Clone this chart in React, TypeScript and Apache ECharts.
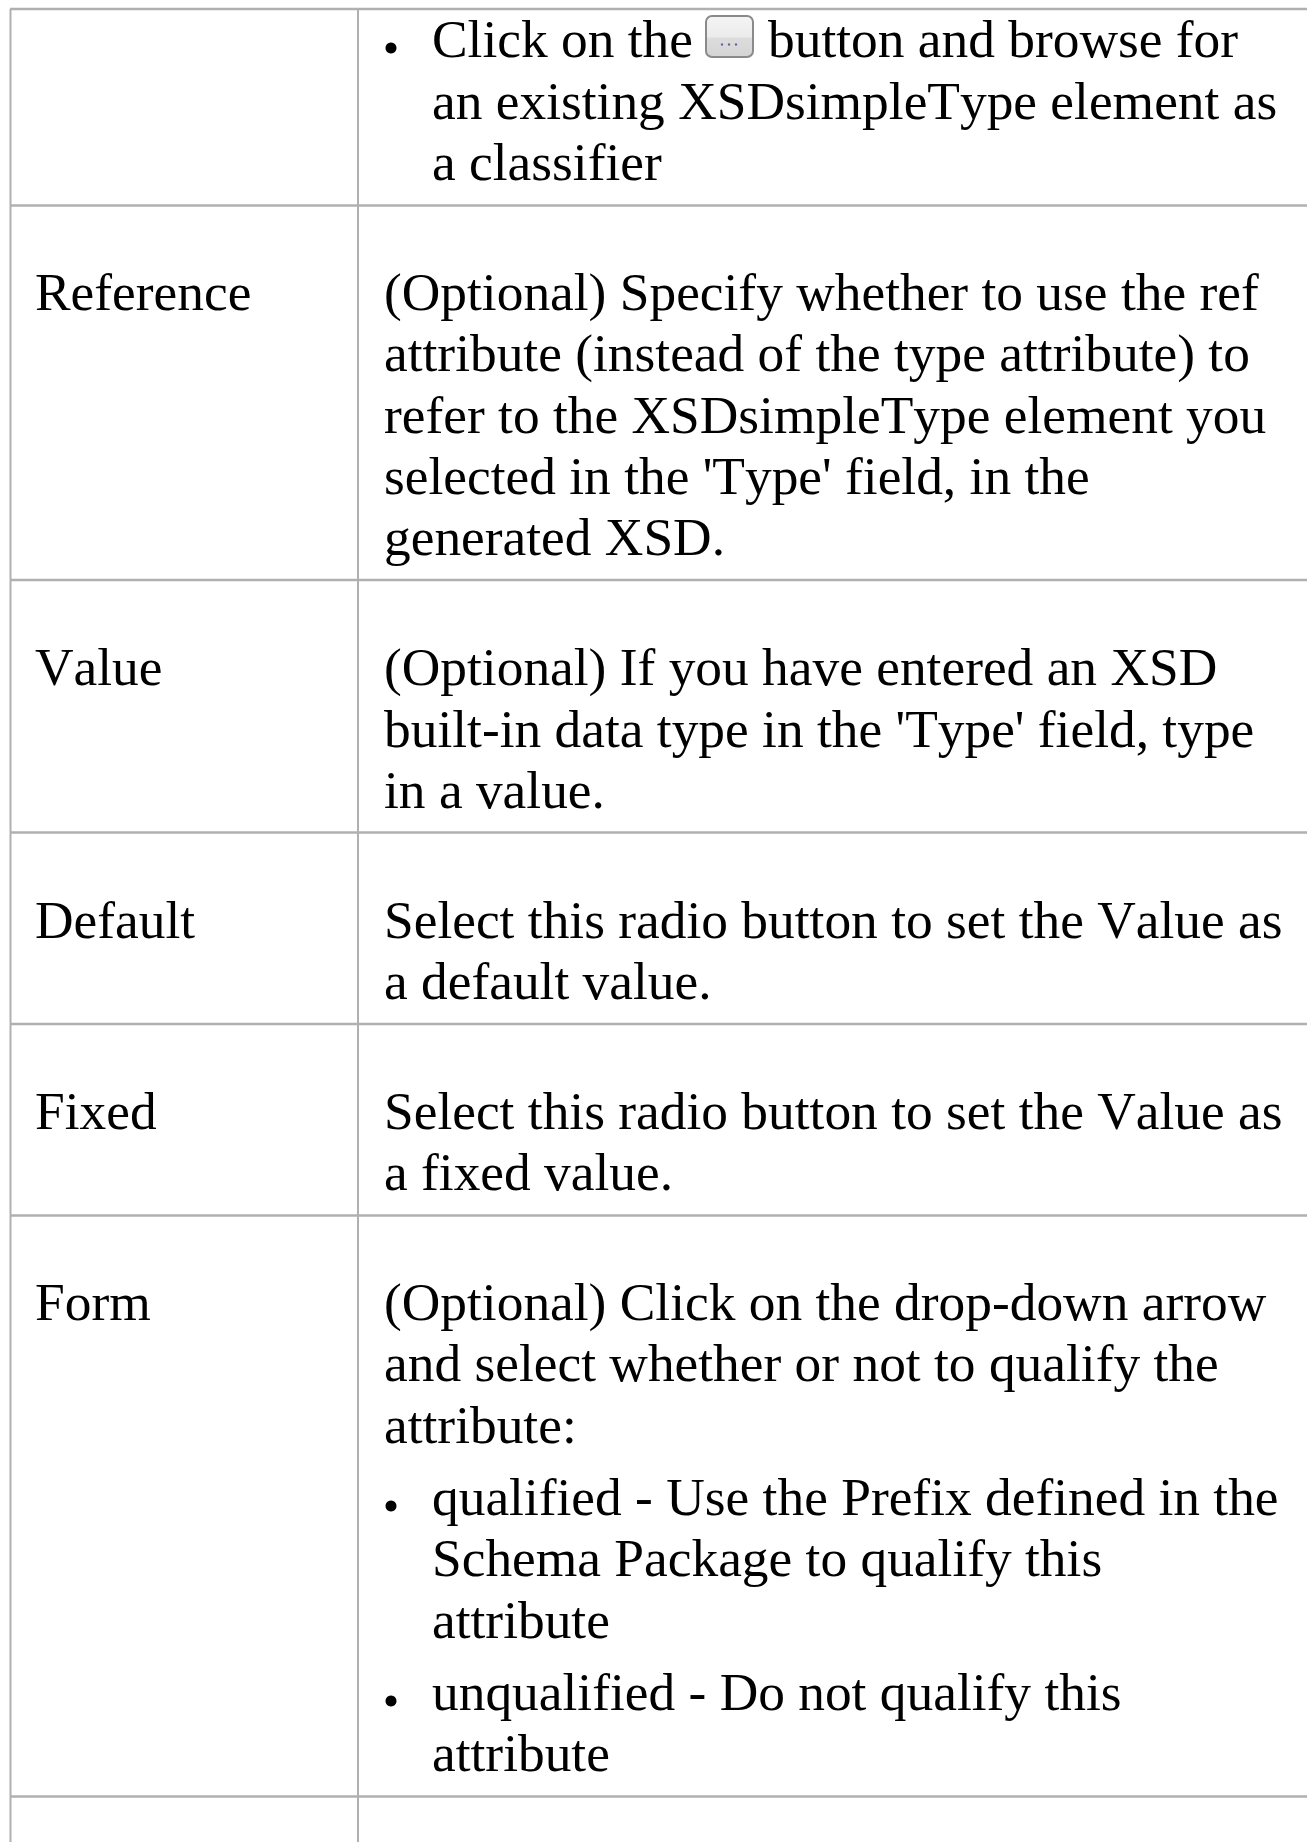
import React, { useEffect, useRef } from "react";
import * as echarts from "echarts";

const WIDTH = 1307;
const HEIGHT = 1842;
const FONT_SIZE = 53.4;
const FONT = '"Liberation Serif", serif';
const TEXT_COLOR = "#000000";
const LINE_COLOR = "#b0b0b0";

const labelColumn = ["Reference", "Value", "Default", "Fixed", "Form"];
const labelLineIndex = [3, 8, 11, 13, 15];

const bodyLines = [
  { text: "Click on the", indent: 1 },
  { text: "an existing XSDsimpleType element as", indent: 1 },
  { text: "a classifier", indent: 1 },
  { text: "(Optional) Specify whether to use the ref", indent: 0 },
  { text: "attribute (instead of the type attribute) to", indent: 0 },
  { text: "refer to the XSDsimpleType element you", indent: 0 },
  { text: "selected in the 'Type' field, in the", indent: 0 },
  { text: "generated XSD.", indent: 0 },
  { text: "(Optional) If you have entered an XSD", indent: 0 },
  { text: "built-in data type in the 'Type' field, type", indent: 0 },
  { text: "in a value.", indent: 0 },
  { text: "Select this radio button to set the Value as", indent: 0 },
  { text: "a default value.", indent: 0 },
  { text: "Select this radio button to set the Value as", indent: 0 },
  { text: "a fixed value.", indent: 0 },
  { text: "(Optional) Click on the drop-down arrow", indent: 0 },
  { text: "and select whether or not to qualify the", indent: 0 },
  { text: "attribute:", indent: 0 },
  { text: "qualified - Use the Prefix defined in the", indent: 1 },
  { text: "Schema Package to qualify this", indent: 1 },
  { text: "attribute", indent: 1 },
  { text: "unqualified - Do not qualify this", indent: 1 },
  { text: "attribute", indent: 1 },
];

const buttonTail = "button and browse for";
const bulletLineIndex = [0, 18, 21];

// vertical centres of each text line, in page pixels
const lineY = [39, 101, 162, 292, 353, 415, 476, 537, 667, 729, 790, 920, 981, 1111, 1172, 1302, 1363, 1425, 1497, 1558, 1620, 1692, 1753];
const horizontalLines = [9, 205.5, 580, 832.5, 1024, 1215.5, 1796.5];
const verticalLines = [10.5, 358];

function buildGraphics() {
  const els: any[] = [];
  horizontalLines.forEach((y) =>
    els.push({ type: "rect", shape: { x: 10, y: y - 1.25, width: WIDTH - 10, height: 2.5 }, style: { fill: LINE_COLOR } })
  );
  verticalLines.forEach((x) =>
    els.push({ type: "rect", shape: { x: x - 1, y: 9, width: 2, height: HEIGHT - 9 }, style: { fill: LINE_COLOR } })
  );
  const text = (t: string, x: number, y: number) => ({
    type: "text",
    style: { text: t, x, y, fontSize: FONT_SIZE, fontFamily: FONT, fill: TEXT_COLOR, verticalAlign: "middle", align: "left" },
  });
  labelColumn.forEach((t, i) => els.push(text(t, 35, lineY[labelLineIndex[i]])));
  bodyLines.forEach((l, i) => els.push(text(l.text, l.indent ? 432 : 384, lineY[i])));
  els.push(text(buttonTail, 768, lineY[0]));
  bulletLineIndex.forEach((i) =>
    els.push({ type: "circle", shape: { cx: 391, cy: lineY[i] + 9, r: 5.5 }, style: { fill: "#000" } })
  );
  els.push({
    type: "rect",
    shape: { x: 706, y: 16, width: 47, height: 41, r: 6 },
    style: {
      fill: new echarts.graphic.LinearGradient(0, 0, 0, 1, [
        { offset: 0, color: "#f4f4f4" },
        { offset: 0.5, color: "#ececec" },
        { offset: 0.55, color: "#dcdcdc" },
        { offset: 1, color: "#d4d4d4" },
      ]),
      stroke: "#8a8a8a",
      lineWidth: 2,
    },
  });
  [722, 729, 736].forEach((cx) =>
    els.push({ type: "circle", shape: { cx, cy: 44.5, r: 1.2 }, style: { fill: "#6a5aa0" } })
  );
  return els;
}

export default function App() {
  const ref = useRef<HTMLDivElement>(null);
  useEffect(() => {
    document.body.style.margin = "0";
    const chart = echarts.init(ref.current!, undefined, { renderer: "svg" });
    chart.setOption({ animation: false, backgroundColor: "#ffffff", graphic: { elements: buildGraphics() } });
    return () => chart.dispose();
  }, []);
  return (
    <>
      <style>{"svg text { font-kerning: none; font-feature-settings: 'liga' 0; }"}</style>
      <div ref={ref} style={{ width: WIDTH, height: HEIGHT }} />
    </>
  );
}
